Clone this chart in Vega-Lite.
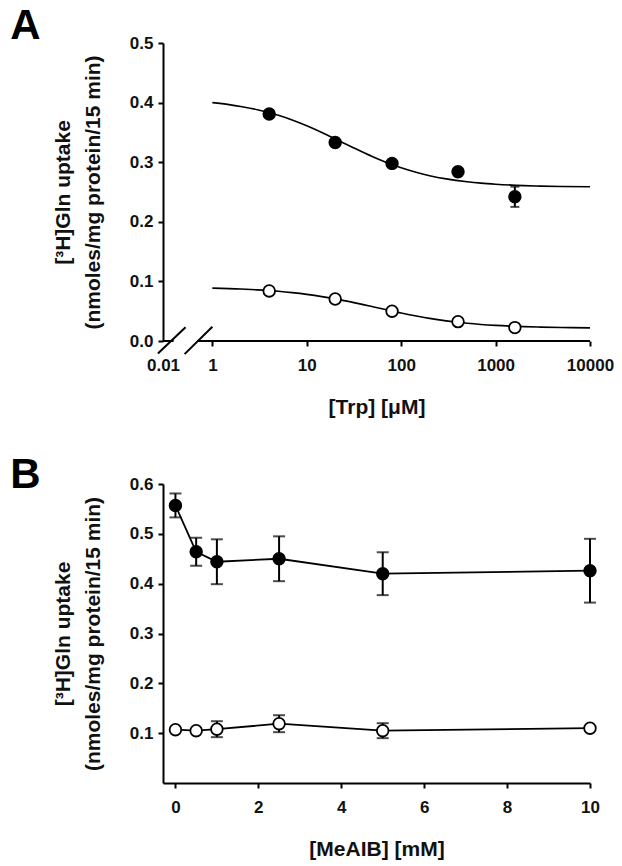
{
  "$schema": "https://vega.github.io/schema/vega-lite/v6.json",
  "padding": {"left": 10, "top": 5, "right": 5, "bottom": 5},
  "background": "white",
  "datasets": {
    "aPts": [
      {"x": 4, "y": 0.381, "err": 0, "series": "Set 1"},
      {"x": 20, "y": 0.333, "err": 0, "series": "Set 1"},
      {"x": 80, "y": 0.298, "err": 0, "series": "Set 1"},
      {"x": 400, "y": 0.284, "err": 0, "series": "Set 1"},
      {"x": 1600, "y": 0.242, "err": 0.017, "series": "Set 1"},
      {"x": 4, "y": 0.084, "err": 0, "series": "Set 2"},
      {"x": 20, "y": 0.0705, "err": 0, "series": "Set 2"},
      {"x": 80, "y": 0.050, "err": 0, "series": "Set 2"},
      {"x": 400, "y": 0.0325, "err": 0, "series": "Set 2"},
      {"x": 1600, "y": 0.0225, "err": 0, "series": "Set 2"}
    ],
    "aCurve": [
      {"x": 1, "y": 0.3999, "series": "Set 1"},
      {"x": 1.5, "y": 0.3966, "series": "Set 1"},
      {"x": 2, "y": 0.3935, "series": "Set 1"},
      {"x": 3, "y": 0.3880, "series": "Set 1"},
      {"x": 4, "y": 0.3831, "series": "Set 1"},
      {"x": 5, "y": 0.3786, "series": "Set 1"},
      {"x": 7, "y": 0.3708, "series": "Set 1"},
      {"x": 10, "y": 0.3611, "series": "Set 1"},
      {"x": 15, "y": 0.3486, "series": "Set 1"},
      {"x": 20, "y": 0.3391, "series": "Set 1"},
      {"x": 30, "y": 0.3255, "series": "Set 1"},
      {"x": 50, "y": 0.3091, "series": "Set 1"},
      {"x": 70, "y": 0.2994, "series": "Set 1"},
      {"x": 100, "y": 0.2905, "series": "Set 1"},
      {"x": 150, "y": 0.2822, "series": "Set 1"},
      {"x": 200, "y": 0.2774, "series": "Set 1"},
      {"x": 300, "y": 0.2720, "series": "Set 1"},
      {"x": 500, "y": 0.2672, "series": "Set 1"},
      {"x": 700, "y": 0.2649, "series": "Set 1"},
      {"x": 1000, "y": 0.2631, "series": "Set 1"},
      {"x": 2000, "y": 0.2607, "series": "Set 1"},
      {"x": 3000, "y": 0.2599, "series": "Set 1"},
      {"x": 5000, "y": 0.2592, "series": "Set 1"},
      {"x": 10000, "y": 0.2587, "series": "Set 1"},
      {"x": 1, "y": 0.0887, "series": "Set 2"},
      {"x": 2, "y": 0.0872, "series": "Set 2"},
      {"x": 3, "y": 0.0858, "series": "Set 2"},
      {"x": 5, "y": 0.0834, "series": "Set 2"},
      {"x": 7, "y": 0.0812, "series": "Set 2"},
      {"x": 10, "y": 0.0783, "series": "Set 2"},
      {"x": 15, "y": 0.0741, "series": "Set 2"},
      {"x": 20, "y": 0.0707, "series": "Set 2"},
      {"x": 30, "y": 0.0652, "series": "Set 2"},
      {"x": 50, "y": 0.0575, "series": "Set 2"},
      {"x": 70, "y": 0.0523, "series": "Set 2"},
      {"x": 100, "y": 0.0469, "series": "Set 2"},
      {"x": 150, "y": 0.0414, "series": "Set 2"},
      {"x": 200, "y": 0.0379, "series": "Set 2"},
      {"x": 300, "y": 0.0338, "series": "Set 2"},
      {"x": 500, "y": 0.0298, "series": "Set 2"},
      {"x": 700, "y": 0.0278, "series": "Set 2"},
      {"x": 1000, "y": 0.0262, "series": "Set 2"},
      {"x": 2000, "y": 0.0241, "series": "Set 2"},
      {"x": 3000, "y": 0.0233, "series": "Set 2"},
      {"x": 5000, "y": 0.0227, "series": "Set 2"},
      {"x": 10000, "y": 0.0221, "series": "Set 2"}
    ],
    "aAxisBreak": [
      {"x": 0.3, "x2": 0.389, "y": 0, "y2": 0},
      {"x": 0.69, "x2": 10000, "y": 0, "y2": 0},
      {"x": 0.265, "x2": 0.52, "y": -0.021, "y2": 0.023},
      {"x": 0.508, "x2": 1.0, "y": -0.022, "y2": 0.024}
    ],
    "bPts": [
      {"x": 0, "y": 0.557, "err": 0.024, "series": "Set 1"},
      {"x": 0.5, "y": 0.464, "err": 0.028, "series": "Set 1"},
      {"x": 1, "y": 0.444, "err": 0.045, "series": "Set 1"},
      {"x": 2.5, "y": 0.450, "err": 0.045, "series": "Set 1"},
      {"x": 5, "y": 0.420, "err": 0.043, "series": "Set 1"},
      {"x": 10, "y": 0.426, "err": 0.064, "series": "Set 1"},
      {"x": 0, "y": 0.107, "err": 0, "series": "Set 2"},
      {"x": 0.5, "y": 0.105, "err": 0, "series": "Set 2"},
      {"x": 1, "y": 0.108, "err": 0.016, "series": "Set 2"},
      {"x": 2.5, "y": 0.119, "err": 0.017, "series": "Set 2"},
      {"x": 5, "y": 0.105, "err": 0.015, "series": "Set 2"},
      {"x": 10, "y": 0.110, "err": 0, "series": "Set 2"}
    ]
  },
  "spacing": 37,
  "vconcat": [
    {
      "width": 427,
      "height": 298,
      "title": {"text": "A", "anchor": "start", "fontSize": 42, "fontWeight": "bold", "font": "Liberation Sans", "color": "black", "dx": -42, "offset": -14},
      "layer": [
        {
          "data": {"name": "aAxisBreak"},
          "mark": {"type": "rule", "clip": false, "strokeWidth": 2, "color": "black"},
          "encoding": {
            "x": {"field": "x", "type": "quantitative", "title": "[Trp] [μM]"},
            "x2": {"field": "x2"},
            "y": {"field": "y", "type": "quantitative", "title": ["[³H]Gln uptake", "(nmoles/mg protein/15 min)"]},
            "y2": {"field": "y2"}
          }
        },
        {
          "data": {"name": "aCurve"},
          "mark": {"type": "line", "interpolate": "monotone", "strokeWidth": 1.6, "color": "black"},
          "encoding": {
            "x": {"field": "x", "type": "quantitative", "title": "[Trp] [μM]"},
            "y": {"field": "y", "type": "quantitative", "title": ["[³H]Gln uptake", "(nmoles/mg protein/15 min)"]},
            "detail": {"field": "series"}
          }
        },
        {
          "data": {"name": "aPts"},
          "transform": [{"filter": "datum.err > 0"}],
          "mark": {"type": "errorbar", "ticks": {"size": 9, "thickness": 2}, "rule": {"strokeWidth": 2}, "color": "black"},
          "encoding": {
            "x": {"field": "x", "type": "quantitative", "title": "[Trp] [μM]"},
            "y": {"field": "y", "type": "quantitative", "title": ["[³H]Gln uptake", "(nmoles/mg protein/15 min)"]},
            "yError": {"field": "err"}
          }
        },
        {
          "data": {"name": "aPts"},
          "mark": {"type": "circle", "stroke": "black", "strokeWidth": 1.8, "opacity": 1, "size": 135},
          "encoding": {
            "x": {
              "field": "x", "type": "quantitative", "title": "[Trp] [μM]",
              "scale": {"type": "log", "domain": [0.3, 10000], "nice": false, "zero": false},
              "axis": {
                "values": [0.3, 1, 10, 100, 1000, 10000],
                "labelExpr": "datum.value < 0.5 ? '0.01' : format(datum.value, 'd')",
                "domain": false,
                "tickColor": {"condition": {"test": "datum.value < 0.5", "value": "transparent"}, "value": "black"}
              }
            },
            "y": {
              "field": "y", "type": "quantitative", "title": ["[³H]Gln uptake", "(nmoles/mg protein/15 min)"],
              "scale": {"domain": [0, 0.5], "nice": false, "zero": false},
              "axis": {
                "values": [0, 0.1, 0.2, 0.3, 0.4, 0.5],
                "format": ".1f"
              }
            },
            "fill": {"field": "series", "type": "nominal", "scale": {"domain": ["Set 1", "Set 2"], "range": ["black", "white"]}, "legend": null}
          }
        }
      ]
    },
    {
      "width": 427,
      "height": 299,
      "title": {"text": "B", "anchor": "start", "fontSize": 42, "fontWeight": "bold", "font": "Liberation Sans", "color": "black", "dx": -42, "offset": -22},
      "data": {"name": "bPts"},
      "layer": [
        {
          "transform": [{"filter": "datum.err > 0"}],
          "mark": {"type": "errorbar", "ticks": {"size": 12, "thickness": 2}, "rule": {"strokeWidth": 2}, "color": "black"},
          "encoding": {
            "x": {"field": "x", "type": "quantitative", "title": "[MeAIB] [mM]"},
            "y": {"field": "y", "type": "quantitative", "title": ["[³H]Gln uptake", "(nmoles/mg protein/15 min)"]},
            "yError": {"field": "err"}
          }
        },
        {
          "mark": {"type": "line", "strokeWidth": 1.8, "color": "black"},
          "encoding": {
            "x": {"field": "x", "type": "quantitative", "title": "[MeAIB] [mM]"},
            "y": {"field": "y", "type": "quantitative", "title": ["[³H]Gln uptake", "(nmoles/mg protein/15 min)"]},
            "detail": {"field": "series"}
          }
        },
        {
          "mark": {"type": "circle", "stroke": "black", "strokeWidth": 1.8, "opacity": 1, "size": 135},
          "encoding": {
            "x": {
              "field": "x", "type": "quantitative", "title": "[MeAIB] [mM]",
              "scale": {"domain": [-0.3, 10], "nice": false, "zero": false},
              "axis": {"values": [0, 2, 4, 6, 8, 10], "format": "d"}
            },
            "y": {
              "field": "y", "type": "quantitative", "title": ["[³H]Gln uptake", "(nmoles/mg protein/15 min)"],
              "scale": {"domain": [0, 0.6], "nice": false, "zero": false},
              "axis": {
                "values": [0.1, 0.2, 0.3, 0.4, 0.5, 0.6],
                "format": ".1f"
              }
            },
            "fill": {"field": "series", "type": "nominal", "scale": {"domain": ["Set 1", "Set 2"], "range": ["black", "white"]}, "legend": null}
          }
        }
      ]
    }
  ],
  "config": {
    "view": {"stroke": null},
    "axis": {
      "grid": false,
      "labelFlush": false,
      "labelOverlap": false,
      "domainColor": "black",
      "domainWidth": 2,
      "tickColor": "black",
      "tickWidth": 2,
      "tickSize": 5,
      "labelFont": "Liberation Sans",
      "labelFontSize": 17,
      "labelFontWeight": "bold",
      "labelColor": "#111111",
      "titleFont": "Liberation Sans",
      "titleFontSize": 21,
      "titleFontWeight": "bold",
      "titleColor": "#111111"
    },
    "axisX": {"labelPadding": 11, "titlePadding": 23},
    "axisY": {"labelPadding": 5, "titlePadding": 26, "titleLineHeight": 30}
  }
}
